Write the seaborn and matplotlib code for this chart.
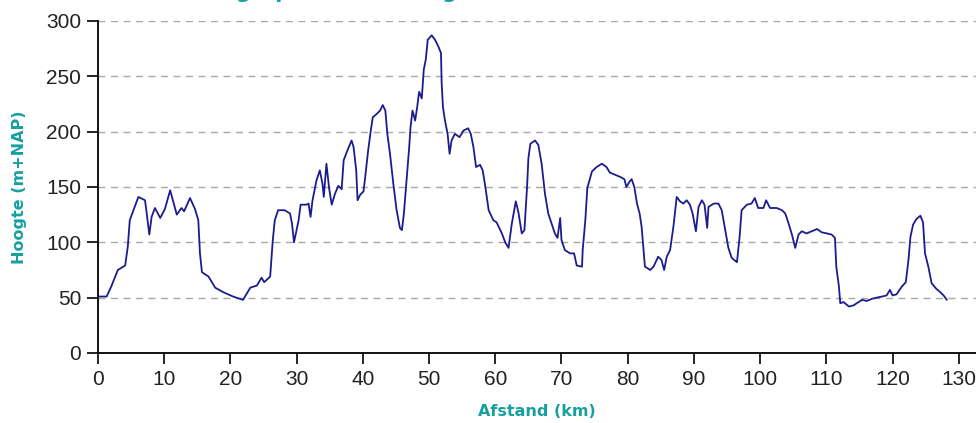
import pandas as pd
import numpy as np
import matplotlib.pyplot as plt
import seaborn as sns

# afstand (km) en hoogte (m+NAP)
afstand = [0, 1.3, 2.0, 3.0, 4.1, 4.5, 4.8, 5.3, 6.1, 7.1, 7.3, 7.75, 8.1, 8.6, 9.4, 10.1, 10.9, 11.9, 12.6, 13.0,
           13.9, 14.65, 15.15, 15.4, 15.7, 16.7, 17.7, 18.9, 20.4, 21.9, 23.0, 24.0, 24.7, 25.1, 26.0, 26.4, 26.7, 27.2,
           28.2, 29.0, 29.3, 29.6, 30.3, 30.6, 31.5, 31.8, 32.1, 32.4, 33.0, 33.5, 33.9, 34.1, 34.5, 34.9, 35.3, 35.8,
           36.3, 36.8, 37.1, 37.6, 38.3, 38.6, 39.0, 39.2, 39.6, 40.1, 40.3, 40.8, 41.2, 41.5, 42.1, 42.6, 43.0, 43.4,
           43.7, 44.1, 44.6, 45.1, 45.6, 45.9, 46.2, 46.6, 47.0, 47.2, 47.5, 47.9, 48.2, 48.5, 48.9, 49.2, 49.5, 49.8,
           50.4, 50.9, 51.4, 51.8, 51.9, 52.1, 52.4, 52.8, 53.1, 53.4, 53.9, 54.6, 55.2, 55.9, 56.3, 56.7, 57.1, 57.7,
           58.1, 58.5, 59.0, 59.7, 60.2, 61.0, 61.5, 62.0, 62.5, 63.1, 63.5, 64.0, 64.4, 64.8, 65.0, 65.3, 66.0, 66.5,
           67.0, 67.5, 68.0, 68.5, 69.0, 69.4, 69.8, 70.0, 70.5, 71.3, 71.9, 72.3, 73.1, 73.2, 73.6, 73.9, 74.6, 75.3,
           76.1, 76.8, 77.3, 78.1, 78.9, 79.5, 79.8, 80.3, 80.6, 81.0, 81.4, 81.8, 82.1, 82.4, 82.6, 83.4, 83.9, 84.6,
           85.1, 85.5, 85.9, 86.4, 86.9, 87.4, 87.9, 88.4, 88.9, 89.4, 89.8, 90.3, 90.7, 91.2, 91.6, 92.0, 92.2, 93.0,
           93.7, 94.2, 94.7, 95.2, 95.7, 96.5, 96.9, 97.2, 98.0, 98.7, 99.2, 99.7, 100.5, 100.9, 101.5, 102.5, 103.3,
           103.8, 104.3, 104.8, 105.3, 105.8, 106.3, 107.0, 107.8, 108.6, 109.3, 110.1, 110.8, 111.3, 111.5, 111.9,
           112.1, 112.6, 113.4, 114.1, 114.6, 115.4, 116.1, 116.9, 117.6, 118.4, 119.1, 119.6, 120.0, 120.6, 121.4,
           122.0, 122.4, 122.7, 123.1, 123.6, 124.2, 124.6, 124.9, 125.4, 125.9, 126.6, 127.2, 127.7, 128.2]
hoogte = [51, 51, 60, 75, 79, 96, 120, 128, 141, 138, 129, 107, 123, 131, 122, 130, 147, 125, 131, 128,
          140, 130, 120, 90, 73, 69, 59, 55, 51, 48, 59, 61, 68, 64, 69, 102, 120, 129,
          129, 126, 117, 100, 120, 134, 134, 135, 123, 138, 156, 165, 153, 141, 171, 149, 134, 144,
          151, 148, 174, 182, 192, 186, 165, 138, 143, 146, 156, 183, 201, 213, 216, 219, 224, 219,
          198, 180, 153, 129, 113, 111, 126, 156, 186, 204, 219, 210, 222, 236, 230, 256, 265, 283,
          287, 283, 277, 271, 244, 222, 210, 198, 180, 192, 198, 195, 201, 203, 198, 186, 168, 170,
          165, 150, 129, 120, 118, 108, 100, 95, 117, 137, 127, 108, 111, 150, 176, 189, 192, 188,
          171, 144, 126, 117, 108, 104, 122, 102, 93, 90, 90, 79, 78, 93, 120, 149, 164, 168,
          171, 168, 163, 161, 159, 157, 150, 155, 157, 150, 135, 126, 114, 93, 78, 75, 78, 87,
          84, 75, 87, 93, 114, 141, 137, 135, 138, 134, 126, 110, 132, 138, 134, 113, 132, 135,
          135, 129, 112, 95, 86, 82, 105, 129, 134, 135, 140, 131, 131, 138, 131, 131, 129,
          126, 117, 107, 95, 107, 110, 108, 110, 112, 109, 108, 107, 104, 78, 60,
          45, 46, 42, 43, 45, 48, 47, 49, 50, 51, 52, 57, 52, 53, 60,
          64, 84, 105, 116, 121, 124, 118, 90, 78, 63, 58, 55, 52, 48]

x_ticks = list(range(0, 131, 10))
y_ticks = list(range(0, 301, 50))

df = pd.DataFrame({'afstand': afstand, 'hoogte': hoogte})

sns.set_style('white')
teal = '#17a0a0'

fig = plt.figure(figsize=(9.76, 4.23), dpi=100)
ax = fig.add_axes([0.1004, 0.1655, 0.8996, 0.785])
sns.lineplot(data=df, x='afstand', y='hoogte', color='#1c1c8e', linewidth=1.3, ax=ax)

ax.set_xlim(0, 132.6)
ax.set_ylim(0, 300)
ax.set_xticks(x_ticks)
ax.set_yticks(y_ticks)
ax.yaxis.grid(True, linestyle=(0, (5, 4)), color='#a8a8a8', linewidth=1)
ax.set_axisbelow(True)
for s in ['top', 'right']:
    ax.spines[s].set_visible(False)
for s in ['left', 'bottom']:
    ax.spines[s].set_color('black')
    ax.spines[s].set_linewidth(1.3)
ax.tick_params(direction='out', length=8, width=1.2, color='black', labelsize=15, pad=4,
               left=True, bottom=True)
for lab in ax.get_xticklabels() + ax.get_yticklabels():
    lab.set_family('Liberation Sans')
    lab.set_color('#222222')

ax.set_xlabel('Afstand (km)', fontsize=11.5, fontweight='bold', color=teal, family='DejaVu Sans', labelpad=11)
ax.set_ylabel('Hoogte (m+NAP)', fontsize=11.5, fontweight='bold', color=teal, family='DejaVu Sans', labelpad=14)

# titel valt grotendeels buiten beeld, alleen de staartjes zijn zichtbaar
fig.text(0.195, 1.004, 'Hoogteprofiel Limburg', fontsize=15, fontweight='bold', color=teal,
         family='DejaVu Sans', va='baseline', ha='left')

plt.savefig('out.png', dpi=100)
